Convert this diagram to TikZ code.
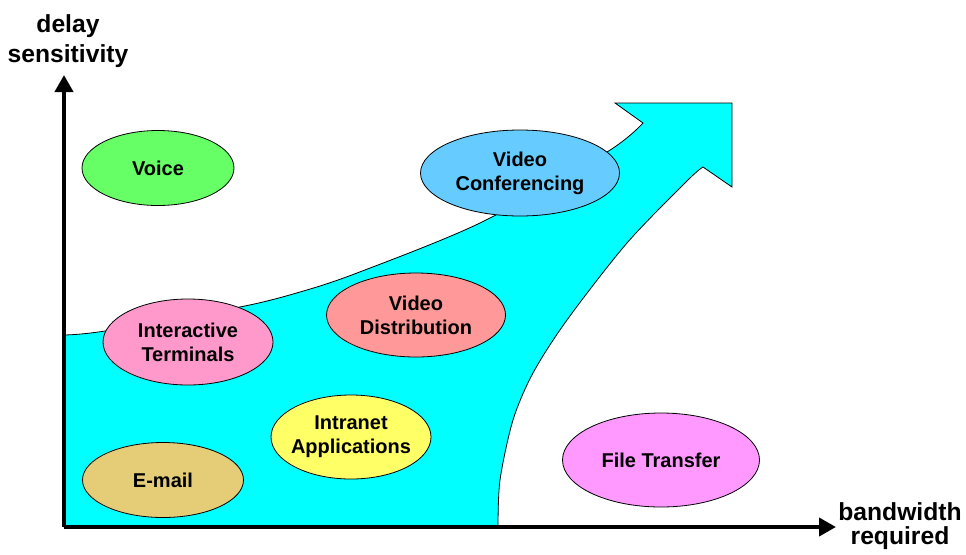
\documentclass[tikz,border=0pt]{standalone}
\usepackage{fontspec}
\setmainfont{Liberation Sans}
\usepackage{tikz}
\usetikzlibrary{arrows.meta, shapes.geometric}
\definecolor{flowcyan}{HTML}{00FFFF}
\definecolor{voicegreen}{HTML}{66FF66}
\definecolor{confblue}{HTML}{66CCFF}
\definecolor{distsalmon}{HTML}{FF9999}
\definecolor{termpink}{HTML}{FF99CC}
\definecolor{netyellow}{HTML}{FFFF66}
\definecolor{mailtan}{HTML}{E5CD78}
\definecolor{filemagenta}{HTML}{FF99FF}

\begin{document}
\begin{tikzpicture}[
    x=0.75pt, y=-0.75pt,
    bubble/.style={ellipse, draw=black, line width=0.6pt, inner sep=-14pt,
                   align=center, font=\bfseries\fontsize{15}{18}\selectfont},
    flow/.style={fill=flowcyan, draw=black, line width=0.6pt},
    axis/.style={line width=3pt, -{Triangle[length=12.75pt, width=13.5pt]}},
    axislabel/.style={align=center, font=\bfseries\fontsize{18.5}{22.5}\selectfont}
  ]
    \useasboundingbox (0,0) rectangle (966,554);

    % Growth arrow
    \filldraw[flow] (64,527) -- (64,335)
      -- plot[smooth, tension=0.5] coordinates {(64,335) (105,331) (240,307) (300,292)
           (357,273) (480,223) (607,152) (643,123)}
      -- (615,103) -- (732,103) -- (732,187) -- (703,167)
      -- plot[smooth, tension=0.5] coordinates {(703,167) (688,180) (627,243) (567,320)
           (533,373) (513,420) (500,480) (498,527)}
      -- cycle;

    % Axes
    \coordinate (origin) at (64,527);
    \coordinate (ytip) at (64,75);
    \coordinate (xtip) at (836,527);
    \draw[axis] (origin) -- (ytip);
    \draw[axis] (origin) -- (xtip);
    \node[axislabel] (ylabel) at (68,41) {delay\\sensitivity};
    \node[axislabel, font=\bfseries\fontsize{18.5}{18}\selectfont] (xlabel) at (900,526) {bandwidth\\required};

    % Applications
    \node[bubble, fill=voicegreen, minimum width=114pt, minimum height=56.25pt] (voice) at (158,168) {Voice};
    \node[bubble, fill=confblue, minimum width=149.25pt, minimum height=64.5pt] (vidconf) at (520,173) {Video\\Conferencing};
    \node[bubble, fill=distsalmon, minimum width=134.25pt, minimum height=63pt] (viddist) at (416,315) {Video\\Distribution};
    \node[bubble, fill=termpink, minimum width=127.5pt, minimum height=64.5pt] (terminals) at (188,342) {Interactive\\Terminals};
    \node[bubble, fill=netyellow, minimum width=120pt, minimum height=63pt] (intranet) at (351,437) {Intranet\\Applications};
    \node[bubble, fill=mailtan, minimum width=120.75pt, minimum height=56.25pt] (email) at (163,480) {E-mail};
    \node[bubble, fill=filemagenta, minimum width=147.75pt, minimum height=70.5pt] (filetransfer) at (661,460) {File Transfer};
  \end{tikzpicture}
\end{document}
